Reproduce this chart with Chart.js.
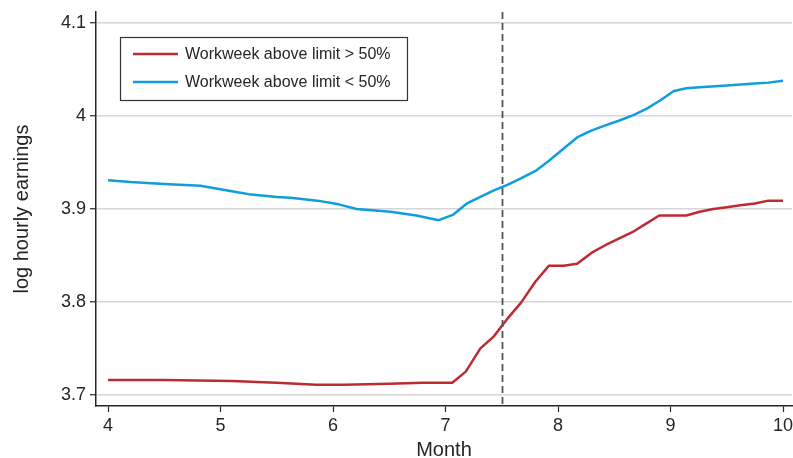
<!DOCTYPE html>
<html>
<head>
<meta charset="utf-8">
<script src="https://cdn.jsdelivr.net/npm/chart.js@4.4.1/dist/chart.umd.min.js"></script>
<style>
  html, body { margin: 0; padding: 0; background: #fff; }
  #wrap { width: 793px; height: 458px; }
</style>
</head>
<body>
<div id="wrap"><canvas id="earnings" width="793" height="458"></canvas></div>
<script>
// Series (month, log hourly earnings)
const redMonths = [4.0, 4.5, 5.1, 5.5, 5.85, 6.1, 6.5, 6.8, 7.06, 7.18, 7.31, 7.43, 7.55, 7.67, 7.80, 7.92, 8.05, 8.17, 8.30, 8.42, 8.54, 8.66, 8.78, 8.90, 9.02, 9.14, 9.26, 9.38, 9.50, 9.62, 9.75, 9.87, 10.0];
const redValues = [3.716, 3.716, 3.715, 3.713, 3.711, 3.711, 3.712, 3.713, 3.713, 3.725, 3.750, 3.763, 3.782, 3.799, 3.822, 3.839, 3.839, 3.841, 3.853, 3.861, 3.868, 3.875, 3.884, 3.893, 3.893, 3.893, 3.897, 3.900, 3.902, 3.904, 3.906, 3.909, 3.909];

const blueMonths = [4.0, 4.2, 4.5, 4.82, 5.1, 5.25, 5.5, 5.62, 5.86, 6.05, 6.21, 6.51, 6.74, 6.94, 7.07, 7.19, 7.31, 7.43, 7.55, 7.67, 7.80, 7.92, 8.04, 8.17, 8.29, 8.42, 8.54, 8.67, 8.79, 8.91, 9.03, 9.14, 9.26, 9.50, 9.75, 9.87, 10.0];
const blueValues = [3.931, 3.929, 3.927, 3.925, 3.919, 3.916, 3.913, 3.912, 3.909, 3.905, 3.900, 3.897, 3.893, 3.888, 3.894, 3.906, 3.913, 3.920, 3.926, 3.933, 3.941, 3.952, 3.964, 3.977, 3.984, 3.990, 3.995, 4.001, 4.008, 4.017, 4.027, 4.030, 4.031, 4.033, 4.035, 4.036, 4.038];

const seriesLabels = ["Workweek above limit > 50%", "Workweek above limit < 50%"];
const xTicks = [4, 5, 6, 7, 8, 9, 10];
const yTicks = [3.7, 3.8, 3.9, 4.0, 4.1];
const cutoffMonth = 7.5;

const RED = '#be2a32';
const BLUE = '#109ddc';
const INK = '#262626';
const FONT = '"Liberation Sans", Arial, sans-serif';

function toPoints(xs, ys) {
  return xs.map((x, i) => ({ x: x, y: ys[i] }));
}

// dashed vertical line at the cutoff
const cutoffLine = {
  id: 'cutoffLine',
  afterDatasetsDraw(chart) {
    const { ctx, chartArea, scales } = chart;
    const x = Math.round(scales.x.getPixelForValue(cutoffMonth)) + 0.5;
    ctx.save();
    ctx.strokeStyle = '#555';
    ctx.lineWidth = 1.8;
    ctx.setLineDash([7, 4]);
    ctx.beginPath();
    ctx.moveTo(x, chartArea.top);
    ctx.lineTo(x, chartArea.bottom);
    ctx.stroke();
    ctx.restore();
  }
};

// boxed legend inside the plot, top left
const boxLegend = {
  id: 'boxLegend',
  afterDraw(chart) {
    const { ctx, chartArea } = chart;
    const left = chartArea.left + 24, top = chartArea.top + 25;
    const w = 287, h = 63;
    ctx.save();
    ctx.fillStyle = '#fff';
    ctx.fillRect(left, top, w, h);
    ctx.strokeStyle = '#333';
    ctx.lineWidth = 1.2;
    ctx.strokeRect(left + 0.5, top + 0.5, w, h);
    ctx.font = '16px ' + FONT;
    ctx.textBaseline = 'middle';
    chart.data.datasets.forEach((ds, i) => {
      const y = top + 17 + i * 28;
      ctx.strokeStyle = ds.borderColor;
      ctx.lineWidth = 2.5;
      ctx.beginPath();
      ctx.moveTo(left + 13, y);
      ctx.lineTo(left + 58, y);
      ctx.stroke();
      ctx.fillStyle = INK;
      ctx.fillText(ds.label, left + 65, y + 1);
    });
    ctx.restore();
  }
};

new Chart(document.getElementById('earnings'), {
  type: 'line',
  data: {
    datasets: [{
      label: seriesLabels[0],
      data: toPoints(redMonths, redValues),
      borderColor: RED,
      borderWidth: 2.5,
      pointRadius: 0,
      tension: 0,
      fill: false
    }, {
      label: seriesLabels[1],
      data: toPoints(blueMonths, blueValues),
      borderColor: BLUE,
      borderWidth: 2.5,
      pointRadius: 0,
      tension: 0,
      fill: false
    }]
  },
  options: {
    responsive: false,
    animation: false,
    devicePixelRatio: 1,
    borderJoinStyle: 'round',
    layout: { padding: { top: 12, right: 1, left: 0, bottom: 0 } },
    plugins: {
      legend: { display: false },
      tooltip: { enabled: false }
    },
    scales: {
      x: {
        type: 'linear',
        min: 3.893,
        max: 10.08,
        afterFit: s => { s.height = 52; s.paddingRight = 0; s.paddingLeft = 0; },
        afterBuildTicks: s => { s.ticks = xTicks.map(v => ({ value: v })); },
        grid: { drawOnChartArea: false, tickLength: 6, tickColor: INK, tickWidth: 1.2 },
        border: { color: INK, width: 1.5 },
        ticks: {
          color: INK,
          padding: 3,
          maxRotation: 0,
          font: { family: FONT, size: 18 }
        },
        title: {
          display: true,
          text: 'Month',
          color: INK,
          padding: { top: 0, bottom: 0 },
          font: { family: FONT, size: 20, lineHeight: 0.8 }
        }
      },
      y: {
        min: 3.688,
        max: 4.112,
        afterFit: s => { s.width = 96; s.paddingTop = 0; s.paddingBottom = 0; },
        afterBuildTicks: s => { s.ticks = yTicks.map(v => ({ value: v })); },
        grid: { color: '#d6d6d6', lineWidth: 1.5, tickLength: 6, tickColor: INK, tickWidth: 1.2 },
        border: { color: INK, width: 1.5 },
        ticks: {
          color: INK,
          padding: 4,
          callback: v => (Math.abs(v - 4) < 1e-9 ? '4' : v.toFixed(1)),
          font: { family: FONT, size: 18 }
        },
        title: {
          display: true,
          text: 'log hourly earnings',
          color: INK,
          padding: { top: 10, bottom: 0 },
          font: { family: FONT, size: 20 }
        }
      }
    }
  },
  plugins: [cutoffLine, boxLegend]
});
</script>
</body>
</html>
